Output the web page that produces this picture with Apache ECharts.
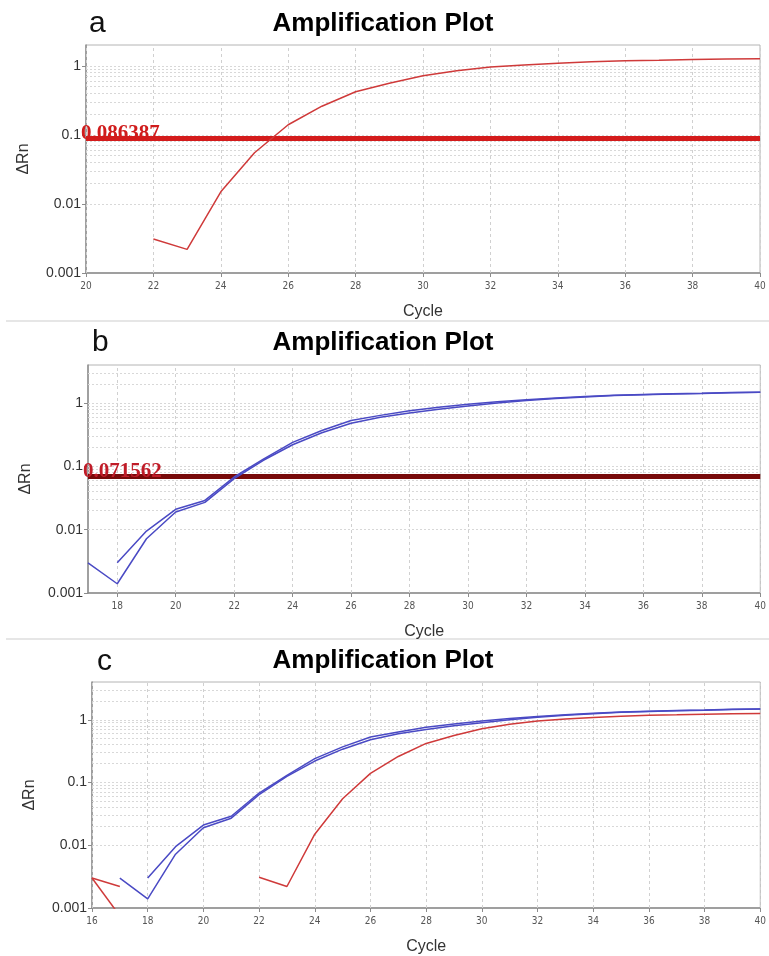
<!DOCTYPE html>
<html>
<head>
<meta charset="utf-8">
<script src="https://cdn.jsdelivr.net/npm/echarts@6/dist/echarts.min.js"></script>
<style>
  html, body { margin: 0; background: #fff; }
  #chart-container { width: 769px; height: 956px; }
</style>
</head>
<body>
<div id="chart-container"></div>
<script>
let dom = document.getElementById("chart-container");
let myChart = echarts.init(dom, null, { renderer: "canvas" });

// cycles 16..40
const cycles = [16, 17, 18, 19, 20, 21, 22, 23, 24, 25, 26, 27, 28, 29, 30, 31, 32, 33, 34, 35, 36, 37, 38, 39, 40];

// red sample (panels a and c)
const redMain = [null, null, null, null, null, null, 0.0031, 0.0022, 0.015, 0.055, 0.14, 0.26, 0.42, 0.56, 0.72, 0.85, 0.96, 1.03, 1.09, 1.14, 1.18, 1.2, 1.23, 1.25, 1.26];
// red baseline noise seen at the left of panel c
const redNoiseA = [0.003, 0.0022];
const redNoiseB = [0.003, 0.00075];
const redNoiseCycles = [16, 17];

// blue replicates (panels b and c)
const blue1 = [null, 0.003, 0.0014, 0.0072, 0.019, 0.027, 0.064, 0.125, 0.22, 0.34, 0.48, 0.6, 0.7, 0.8, 0.9, 1.0, 1.1, 1.18, 1.25, 1.32, 1.36, 1.39, 1.42, 1.46, 1.48];
const blue2 = [null, null, 0.003, 0.0095, 0.021, 0.029, 0.068, 0.13, 0.24, 0.37, 0.53, 0.64, 0.76, 0.86, 0.96, 1.05, 1.13, 1.2, 1.27, 1.33, 1.37, 1.4, 1.43, 1.47, 1.49];

// thresholds
const thresholdA = 0.086387;
const thresholdB = 0.071562;

// axis ticks
const yTicks = [0.001, 0.01, 0.1, 1];
const minorSteps = [2, 3, 4, 5, 6, 7, 8, 9];
const xTicksA = [20, 22, 24, 26, 28, 30, 32, 34, 36, 38, 40];
const xTicksB = [18, 20, 22, 24, 26, 28, 30, 32, 34, 36, 38, 40];
const xTicksC = [16, 18, 20, 22, 24, 26, 28, 30, 32, 34, 36, 38, 40];

const RED = "#cf3a3a";
const BLUE = "#4a4ac4";

function pairs(xs, ys) {
  return xs.map((x, i) => [x, ys[i] == null ? "-" : ys[i]]);
}

function gridLines(xTicks, yMax) {
  let lines = [];
  yTicks.forEach((d) => {
    lines.push({ yAxis: d });
    minorSteps.forEach((m) => {
      if (d * m < yMax) lines.push({ yAxis: d * m });
    });
  });
  xTicks.forEach((x) => {
    lines.push({ xAxis: x, lineStyle: { color: "#d0d0d0", type: [3, 3] } });
  });
  return lines;
}

const panels = [
  {
    letter: "a", letterX: 89, letterY: 24, titleY: 24,
    grid: { left: 86, right: 9, top: 45, height: 228 },
    xMin: 20, yMax: 2, xTicks: xTicksA,
    curves: [{ x: cycles, y: redMain, color: RED }],
    threshold: { value: thresholdA, line: "#d41c1c", text: "#d01c1c" },
  },
  {
    letter: "b", letterX: 92, letterY: 343, titleY: 343,
    grid: { left: 88, right: 7, top: 365, height: 228 },
    xMin: 17, yMax: 4, xTicks: xTicksB,
    curves: [
      { x: cycles, y: blue1, color: BLUE },
      { x: cycles, y: blue2, color: BLUE },
    ],
    threshold: { value: thresholdB, line: "#780a0a", text: "#c01c28" },
  },
  {
    letter: "c", letterX: 97, letterY: 662, titleY: 661,
    grid: { left: 92, right: 4, top: 682, height: 227 },
    xMin: 16, yMax: 4, xTicks: xTicksC,
    curves: [
      { x: cycles, y: blue1, color: BLUE },
      { x: cycles, y: blue2, color: BLUE },
      { x: cycles, y: redMain, color: RED },
      { x: redNoiseCycles, y: redNoiseA, color: RED },
      { x: redNoiseCycles, y: redNoiseB, color: RED },
    ],
    threshold: null,
  },
];

let grids = [], xAxes = [], yAxes = [], series = [], graphics = [];

panels.forEach((p, i) => {
  grids.push(Object.assign({ show: true, borderColor: "#b4b4b4", borderWidth: 1, backgroundColor: "#fff" }, p.grid));

  xAxes.push({
    gridIndex: i,
    type: "value",
    min: p.xMin,
    max: 40,
    interval: 1,
    name: "Cycle",
    nameLocation: "middle",
    nameGap: 31,
    nameTextStyle: { fontSize: 16, color: "#333", fontFamily: "Liberation Sans" },
    axisLine: { onZero: false, lineStyle: { color: "#8c8c8c", width: 1.5 } },
    axisTick: { length: 4, lineStyle: { color: "#8c8c8c" }, customValues: p.xTicks },
    axisLabel: { fontSize: 10, color: "#555", margin: 8, fontFamily: "DejaVu Sans Condensed", customValues: p.xTicks },
    splitLine: { show: false },
  });

  yAxes.push({
    gridIndex: i,
    type: "log",
    logBase: 10,
    min: 0.001,
    max: p.yMax,
    name: "ΔRn",
    nameLocation: "middle",
    nameGap: 54,
    nameTextStyle: { fontSize: 16, color: "#333", fontFamily: "Liberation Sans" },
    axisLine: { lineStyle: { color: "#8c8c8c", width: 1.5 } },
    axisTick: { length: 4, lineStyle: { color: "#8c8c8c" }, customValues: yTicks },
    axisLabel: {
      fontSize: 14, color: "#333", margin: 5, fontFamily: "Liberation Sans",
      customValues: yTicks,
      formatter: (v) => String(v),
    },
    splitLine: { show: false },
  });

  // grid lines
  series.push({
    type: "line",
    xAxisIndex: i,
    yAxisIndex: i,
    data: [],
    silent: true,
    z: 1,
    markLine: {
      silent: true,
      z: 1,
      symbol: ["none", "none"],
      label: { show: false },
      lineStyle: { color: "#d8d8d8", type: [2, 2], width: 1 },
      data: gridLines(p.xTicks, p.yMax),
    },
  });

  if (p.threshold) {
    series.push({
      type: "line",
      xAxisIndex: i,
      yAxisIndex: i,
      data: [],
      silent: true,
      z: 2,
      markLine: {
        silent: true,
        z: 2,
        symbol: ["none", "none"],
        lineStyle: { color: p.threshold.line, type: "solid", width: 5 },
        label: {
          show: true,
          position: "insideStartTop",
          distance: [-5, -6],
          formatter: String(p.threshold.value),
          color: p.threshold.text,
          fontFamily: "Liberation Serif",
          fontWeight: "bold",
          fontSize: 21,
        },
        data: [{ yAxis: p.threshold.value }],
      },
    });
  }

  p.curves.forEach((c) => {
    series.push({
      type: "line",
      xAxisIndex: i,
      yAxisIndex: i,
      data: pairs(c.x, c.y),
      showSymbol: false,
      symbol: "none",
      smooth: false,
      clip: true,
      z: 3,
      lineStyle: { color: c.color, width: 1.5 },
    });
  });

  graphics.push({
    type: "text",
    x: p.letterX,
    y: p.letterY,
    style: { text: p.letter, fontSize: 30, fontFamily: "Liberation Sans", fill: "#111", verticalAlign: "middle" },
  });
  graphics.push({
    type: "text",
    x: 383,
    y: p.titleY,
    style: {
      text: "Amplification Plot",
      fontSize: 26,
      fontWeight: "bold",
      fontFamily: "Liberation Sans",
      fill: "#000",
      align: "center",
      verticalAlign: "middle",
    },
  });
});

// separators between panels
graphics.push({ type: "rect", shape: { x: 6, y: 320, width: 763, height: 2 }, style: { fill: "#e6e6e6" } });
graphics.push({ type: "rect", shape: { x: 6, y: 638, width: 763, height: 2 }, style: { fill: "#e6e6e6" } });

let option = {
  animation: false,
  backgroundColor: "#fff",
  grid: grids,
  xAxis: xAxes,
  yAxis: yAxes,
  series: series,
  graphic: graphics,
};

myChart.setOption(option);
window.addEventListener("resize", myChart.resize);
</script>
</body>
</html>
